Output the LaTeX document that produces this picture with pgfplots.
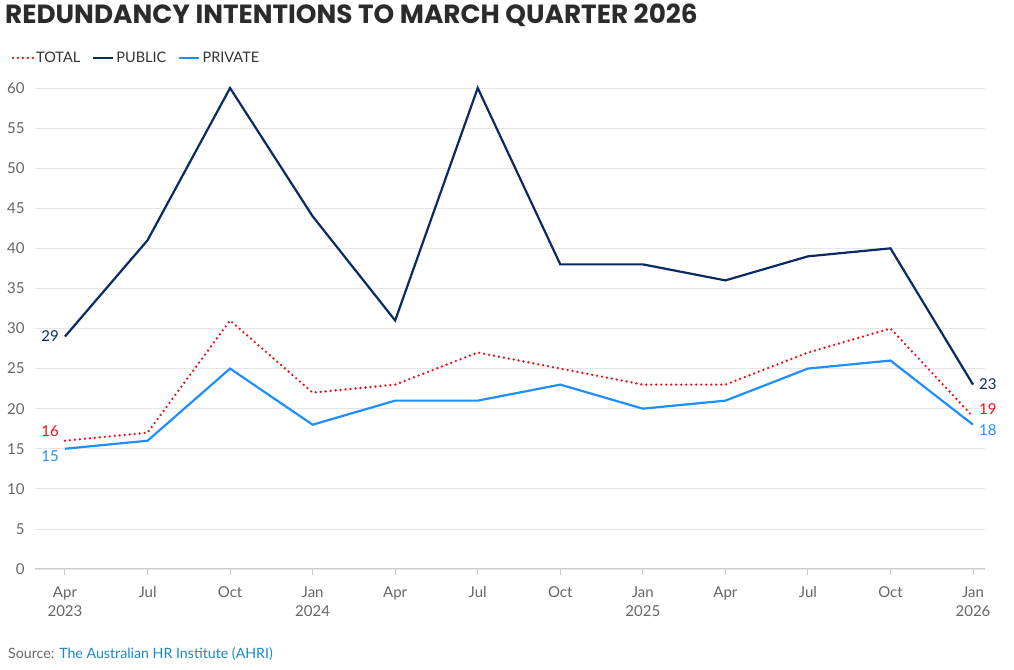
\documentclass[border=0pt]{standalone}
\usepackage{pgfplots}
\pgfplotsset{compat=1.18}
\usepackage{fontspec}
\setmainfont{Lato}
\newfontfamily\titlefont{Poppins}
\definecolor{navy}{HTML}{0A2A66}
\definecolor{sky}{HTML}{1F8FFF}
\definecolor{redline}{HTML}{E8101A}
\definecolor{ticktext}{HTML}{666666}
\definecolor{gridc}{HTML}{E6E6E6}
\definecolor{axisc}{HTML}{CCCCCC}
\definecolor{srcblue}{HTML}{1B87C9}
\definecolor{titlec}{HTML}{2B2B2B}

\pgfplotstableread{
idx total public private
0  16 29 15
1  17 41 16
2  31 60 25
3  22 44 18
4  23 31 21
5  27 60 21
6  25 38 23
7  23 38 20
8  23 36 21
9  27 39 25
10 30 40 26
11 19 23 18
}\redund

\begin{document}
\begin{tikzpicture}[x=1pt,y=1pt]
\path[use as bounding box] (0,0) rectangle (1014,669);
% title and source
\node[anchor=base west, inner sep=0, text=titlec, font=\titlefont\bfseries\fontsize{26.3}{30}\selectfont] at (5,645) {REDUNDANCY INTENTIONS TO MARCH QUARTER 2026};
\node[anchor=base west, inner sep=0, font=\fontsize{14.2}{16}\selectfont] at (8,11) {\textcolor{ticktext}{Source:} \textcolor{srcblue}{The Australian HR Institute (AHRI)}};
\begin{axis}[
  at={(35pt,100pt)}, anchor=south west,
  scale only axis, width=950pt, height=481pt,
  xmin=-0.363, xmax=11.145,
  ymin=0, ymax=60,
  ytick={0,5,...,60},
  xtick={0,...,11},
  xticklabels={{Apr\\2023},Jul,Oct,{Jan\\2024},Apr,Jul,Oct,{Jan\\2025},Apr,Jul,Oct,{Jan\\2026}},
  /pgf/number format/assume math mode=true,
  ticklabel style={font=\fontsize{15}{19}\selectfont, text=ticktext},
  xticklabel style={align=center, anchor=north, yshift=-8pt},
  yticklabel style={anchor=east, xshift=-1pt},
  axis x line*=bottom, axis y line*=left,
  x axis line style={draw=axisc, line width=1pt, -},
  y axis line style={draw=none},
  ymajorgrids, grid style={draw=gridc, line width=0.8pt},
  tick align=outside, major tick length=6pt,
  xtick style={draw=axisc, line width=1pt},
  ytick style={draw=none},
  clip=false,
  legend columns=-1,
  legend style={draw=none, fill=none, at={(-0.028,1.0625)}, anchor=west,
    font=\fontsize{14.5}{18}\selectfont, text=black!80,
    /tikz/every even column/.append style={column sep=10pt}},
  legend image code/.code={\draw[#1] (0pt,0pt) -- (20pt,0pt);},
]
\addplot[redline, line width=2.6pt, dash pattern=on 0pt off 5pt, line cap=round] table[x=idx,y=total] {\redund};
\addlegendentry{TOTAL}
\addplot[navy, line width=2.2pt] table[x=idx,y=public] {\redund};
\addlegendentry{PUBLIC}
\addplot[sky, line width=2.2pt] table[x=idx,y=private] {\redund};
\addlegendentry{PRIVATE}
\begin{scope}[every node/.style={font=\fontsize{15}{18}\selectfont, inner sep=3pt}]
\node[anchor=east, text=navy, xshift=-3pt] at (axis cs:0,29) {29};
\node[anchor=south east, text=redline, xshift=-3pt, yshift=1pt] at (axis cs:0,16) {16};
\node[anchor=north east, text=sky, xshift=-3pt, yshift=1pt] at (axis cs:0,15) {15};
\node[anchor=west, text=navy, xshift=3pt] at (axis cs:11,23) {23};
\node[anchor=west, text=redline, xshift=3pt, yshift=8pt] at (axis cs:11,19) {19};
\node[anchor=west, text=sky, xshift=3pt, yshift=-5pt] at (axis cs:11,18) {18};
\end{scope}
\end{axis}
\end{tikzpicture}
\end{document}
